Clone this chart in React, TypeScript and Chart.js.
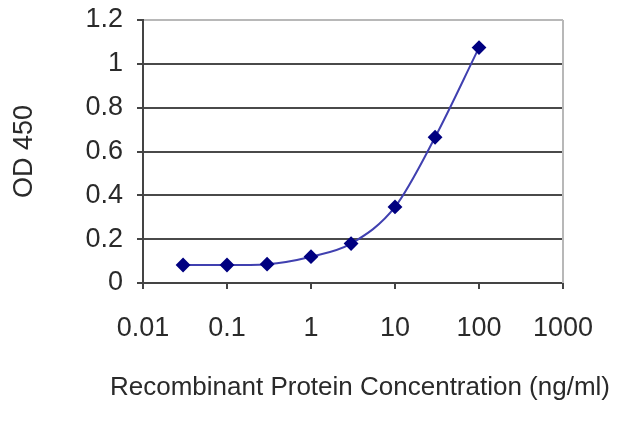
import React, { useEffect, useRef } from "react";
import { Chart, registerables } from "chart.js";

Chart.register(...registerables);

const concentrations = [0.03, 0.1, 0.3, 1, 3, 10, 30, 100];
const odValues = [0.082, 0.082, 0.086, 0.12, 0.18, 0.347, 0.665, 1.074];
const xTickValues = [0.01, 0.1, 1, 10, 100, 1000];
const yTickValues = [0, 0.2, 0.4, 0.6, 0.8, 1, 1.2];
const xTitle = "Recombinant Protein Concentration (ng/ml)";
const yTitle = "OD 450";

const FONT = "'Liberation Sans', Arial, sans-serif";
const TEXT = "#2a2a2a";

const decorations = {
  id: "decorations",
  afterDraw(chart: any) {
    const { ctx, chartArea } = chart;
    ctx.save();
    // light right border of plot area
    ctx.strokeStyle = "#b8b8b8";
    ctx.lineWidth = 2;
    ctx.beginPath();
    ctx.moveTo(chartArea.right, chartArea.top);
    ctx.lineTo(chartArea.right, chartArea.bottom);
    ctx.stroke();
    // x axis title (drawn without Chart.js maxWidth squeezing)
    ctx.fillStyle = TEXT;
    ctx.font = `26px ${FONT}`;
    ctx.textAlign = "center";
    ctx.textBaseline = "middle";
    ctx.fillText(xTitle, (chartArea.left + chartArea.right) / 2 + 7, chartArea.bottom + 105);
    ctx.restore();
  },
};

export default function App() {
  const ref = useRef<HTMLCanvasElement>(null);

  useEffect(() => {
    if (!ref.current) return;
    const chart = new Chart(ref.current, {
      type: "line",
      data: {
        datasets: [
          {
            data: concentrations.map((c, i) => ({ x: c, y: odValues[i] })),
            borderColor: "#4040b0",
            borderWidth: 2,
            pointStyle: "rectRot",
            pointRadius: 6,
            pointBackgroundColor: "#000080",
            pointBorderColor: "#000080",
            cubicInterpolationMode: "monotone",
          },
        ],
      },
      plugins: [decorations],
      options: {
        animation: false,
        responsive: false,
        devicePixelRatio: 1,
        layout: { padding: { left: 0, right: 77, top: 20, bottom: 0 } },
        plugins: { legend: { display: false }, tooltip: { enabled: false } },
        scales: {
          x: {
            type: "logarithmic",
            min: 0.01,
            max: 1000,
            afterBuildTicks: (s: any) => {
              s.ticks = xTickValues.map((v) => ({ value: v }));
            },
            afterFit: (s: any) => {
              s.height = 144;
              s.paddingLeft = 0;
              s.paddingRight = 0;
            },
            ticks: {
              autoSkip: false,
              maxRotation: 0,
              padding: 23,
              color: TEXT,
              font: { family: FONT, size: 27 },
              callback: (v: any) => String(v),
            },
            grid: {
              drawOnChartArea: false,
              drawTicks: true,
              tickLength: 6,
              tickColor: "#444",
              lineWidth: 2,
            },
            border: { color: "#444", width: 2 },
            title: { display: false },
          },
          y: {
            min: 0,
            max: 1.2,
            afterBuildTicks: (s: any) => {
              s.ticks = yTickValues.map((v) => ({ value: v }));
            },
            afterFit: (s: any) => {
              s.width = 143;
              s.paddingTop = 0;
              s.paddingBottom = 0;
            },
            ticks: {
              padding: 14,
              color: TEXT,
              font: { family: FONT, size: 27 },
              callback: (v: any) => String(parseFloat(Number(v).toFixed(1))),
            },
            grid: {
              drawTicks: true,
              tickLength: 6,
              tickColor: "#444",
              lineWidth: 2,
              color: (ctx: any) =>
                ctx.tick && ctx.tick.value === 1.2 ? "#b8b8b8" : "#4a4a4a",
            },
            border: { color: "#444", width: 2 },
            title: {
              display: true,
              text: yTitle,
              color: TEXT,
              font: { family: FONT, size: 27 },
              padding: { top: 8, bottom: 0 },
            },
          },
        },
      },
    } as any);
    return () => chart.destroy();
  }, []);

  return (
    <div style={{ position: "fixed", left: 0, top: 0, width: 640, height: 427, background: "#fff" }}>
      <canvas ref={ref} width={640} height={427} style={{ width: 640, height: 427 }} />
    </div>
  );
}
